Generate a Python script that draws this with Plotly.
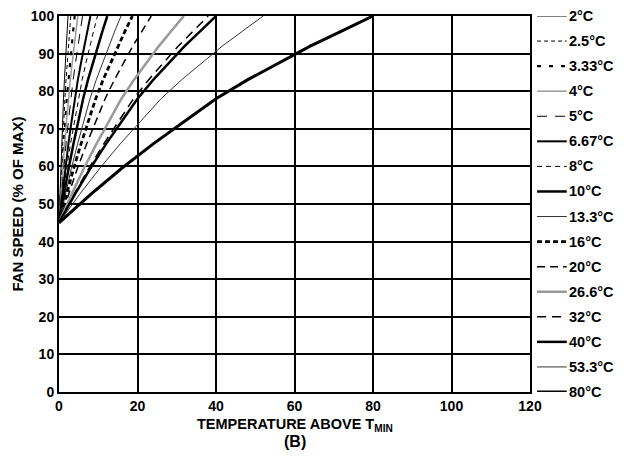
import plotly.graph_objects as go

# Legend labels (range settings) and where each curve reaches 100%
range_labels = ["2°C", "2.5°C", "3.33°C", "4°C", "5°C", "6.67°C", "8°C", "10°C",
                "13.3°C", "16°C", "20°C", "26.6°C", "32°C", "40°C", "53.3°C", "80°C"]
full_speed_temp = [2.3, 3.0, 4.0, 4.8, 6.0, 8.0, 9.8, 12.3, 15.8, 18.7, 23.5, 31.8, 38.0, 40.0, 52.0, 80.0]

# Common curve shape read from the 80°C curve: fraction of full-speed temperature vs fan speed
shape_fraction = [0, 0.1, 0.2, 0.3, 0.4, 0.5, 0.6, 0.7, 0.8, 0.9, 1.0]
shape_speed = [45, 52.5, 59.5, 66, 72, 78, 83, 87.5, 92, 96, 100]

# Line styles: (width, dash, colour)
styles = [
    (1.0, "solid", "#000000"),
    (1.0, "4px,3px", "#000000"),
    (2.2, "4px,8px", "#000000"),
    (1.5, "solid", "#9a9a9a"),
    (1.0, "10px,8px", "#000000"),
    (2.0, "solid", "#000000"),
    (1.0, "5px,4px", "#000000"),
    (2.5, "solid", "#000000"),
    (1.0, "solid", "#333333"),
    (2.8, "5px,3px", "#000000"),
    (1.5, "8px,5px", "#000000"),
    (2.5, "solid", "#9a9a9a"),
    (1.5, "9px,6px", "#000000"),
    (2.5, "solid", "#000000"),
    (1.0, "solid", "#333333"),
    (3.0, "solid", "#000000"),
]

FONT = "Liberation Sans, Arial, sans-serif"

fig = go.Figure()
for lab, tfull, (w, d, c) in zip(range_labels, full_speed_temp, styles):
    xs = [f * tfull for f in shape_fraction]
    fig.add_trace(go.Scatter(x=xs, y=shape_speed, mode="lines", name=lab,
                             line=dict(color=c, width=w, dash=d), showlegend=False,
                             hoverinfo="skip"))

# Custom legend on the right, aligned with y gridlines
n = len(range_labels)
for i, (lab, (w, d, c)) in enumerate(zip(range_labels, styles)):
    yv = 100 - i * 100 / (n - 1)
    fig.add_shape(type="line", xref="paper", yref="y", x0=1.015, x1=1.078, y0=yv, y1=yv,
                  line=dict(color=c, width=w, dash=d))
    fig.add_annotation(xref="paper", yref="y", x=1.079, y=yv, text=lab, showarrow=False,
                       xanchor="left", yanchor="middle",
                       font=dict(family=FONT, size=14.5, color="black", weight="bold"))

fig.add_annotation(xref="paper", yref="paper", x=0.502, y=-0.087, text="TEMPERATURE ABOVE T<sub>MIN</sub>",
                   showarrow=False, xanchor="center", yanchor="middle",
                   font=dict(family=FONT, size=14.5, color="black", weight="bold"))
fig.add_annotation(xref="paper", yref="paper", x=0.502, y=-0.131, text="(B)",
                   showarrow=False, xanchor="center", yanchor="middle",
                   font=dict(family=FONT, size=16, color="black", weight="bold"))
fig.add_annotation(xref="paper", yref="paper", x=-0.09, y=0.5, text="FAN SPEED (% OF MAX)",
                   showarrow=False, xanchor="center", yanchor="middle", textangle=-90,
                   font=dict(family=FONT, size=15, color="black", weight="bold"))

fig.update_layout(
    width=616, height=460,
    margin=dict(l=51, r=94, t=8, b=76, autoexpand=False),
    plot_bgcolor="white", paper_bgcolor="white",
    font=dict(family=FONT, size=14, color="black", weight="bold"),
    xaxis=dict(range=[0, 120], tickvals=[0, 20, 40, 60, 80, 100, 120],
               showgrid=True, gridcolor="black", gridwidth=1.7,
               showline=True, linecolor="black", linewidth=2, mirror=True,
               zeroline=False, ticks="", automargin=False, ticklabeloverflow="allow",
               tickfont=dict(size=14, weight="bold")),
    yaxis=dict(range=[0, 100], tickvals=list(range(0, 101, 10)),
               showgrid=True, gridcolor="black", gridwidth=1.7,
               showline=True, linecolor="black", linewidth=2, mirror=True,
               zeroline=False, ticks="", automargin=False, ticklabeloverflow="allow",
               tickfont=dict(size=14, weight="bold")),
)

fig.write_html("out.html")
